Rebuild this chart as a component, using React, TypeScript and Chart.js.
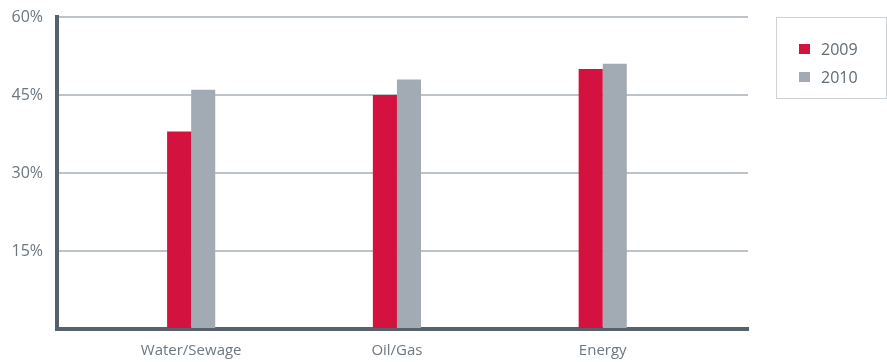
import React, { useEffect, useRef } from "react";
import { Chart, registerables } from "chart.js";

Chart.register(...registerables);

const categories = ["Water/Sewage", "Oil/Gas", "Energy"];
const series2009 = [38, 45, 50];
const series2010 = [46, 48, 51];
const seriesLabels = ["2009", "2010"];
const yTicks = [15, 30, 45, 60];

const RED = "#d4123f";
const GRAY = "#a2abb3";
const TEXT = "#6b7781";
const FONT = "'Open Sans', 'DejaVu Sans', sans-serif";

export default function App() {
  const ref = useRef<HTMLCanvasElement>(null);

  useEffect(() => {
    if (!ref.current) return;
    const chart = new Chart(ref.current, {
      type: "bar",
      data: {
        datasets: [
          {
            label: seriesLabels[0],
            data: series2009.map((v, i) => ({ x: i, y: v })),
            backgroundColor: RED,
            barPercentage: 1,
            categoryPercentage: 0.234,
          },
          {
            label: seriesLabels[1],
            data: series2010.map((v, i) => ({ x: i, y: v })),
            backgroundColor: GRAY,
            barPercentage: 1,
            categoryPercentage: 0.234,
          },
        ],
      },
      options: {
        animation: false,
        responsive: false,
        maintainAspectRatio: false,
        layout: { padding: { top: 17, right: 139, left: 0, bottom: 0 } },
        plugins: { legend: { display: false }, tooltip: { enabled: false } },
        scales: {
          x: {
            type: "linear",
            offset: false,
            min: -0.652,
            max: 2.706,
            afterBuildTicks: (scale: any) => {
              scale.ticks = categories.map((_, i) => ({ value: i }));
            },
            afterFit: (scale: any) => {
              scale.height = 33;
              scale.paddingLeft = 0;
              scale.paddingRight = 0;
            },
            ticks: {
              autoSkip: false,
              maxRotation: 0,
              padding: 13,
              color: TEXT,
              font: { family: FONT, size: 15 },
              callback: (v: any) => categories[Math.round(Number(v))] ?? "",
            },
            grid: { display: false, drawTicks: false },
            border: { display: true, color: "#56616b", width: 4 },
          },
          y: {
            min: 0,
            max: 60,
            afterBuildTicks: (scale: any) => {
              scale.ticks = [0, ...yTicks].map((v) => ({ value: v }));
            },
            afterFit: (scale: any) => {
              scale.width = 57;
              scale.paddingTop = 0;
              scale.paddingBottom = 0;
            },
            ticks: {
              padding: 14,
              color: TEXT,
              font: { family: FONT, size: 16 },
              callback: (v: any) => (Number(v) === 0 ? "" : v + "%"),
            },
            grid: {
              color: "#bcc4ca",
              lineWidth: 2,
              drawTicks: false,
            },
            border: { display: true, color: "#56616b", width: 4 },
          },
        },
      },
    });
    return () => chart.destroy();
  }, []);

  const legendItem = (label: string, color: string, top: number) => (
    <div
      style={{
        position: "absolute",
        left: 22,
        top,
        display: "flex",
        alignItems: "center",
      }}
    >
      <div style={{ width: 11, height: 10, background: color }} />
      <span
        style={{
          marginLeft: 11,
          fontFamily: FONT,
          fontSize: 16,
          color: "#5f6b75",
          lineHeight: "16px",
        }}
      >
        {label}
      </span>
    </div>
  );

  return (
    <div
      style={{
        position: "fixed",
        left: 0,
        top: 0,
        width: 887,
        height: 362,
        background: "#fff",
      }}
    >
      <canvas ref={ref} width={887} height={362} style={{ display: "block" }} />
      <div
        style={{
          position: "absolute",
          left: 776,
          top: 17,
          width: 111,
          height: 82,
          boxSizing: "border-box",
          border: "1px solid #cdd2d6",
        }}
      >
        {legendItem(seriesLabels[0], RED, 23)}
        {legendItem(seriesLabels[1], GRAY, 51)}
      </div>
    </div>
  );
}
